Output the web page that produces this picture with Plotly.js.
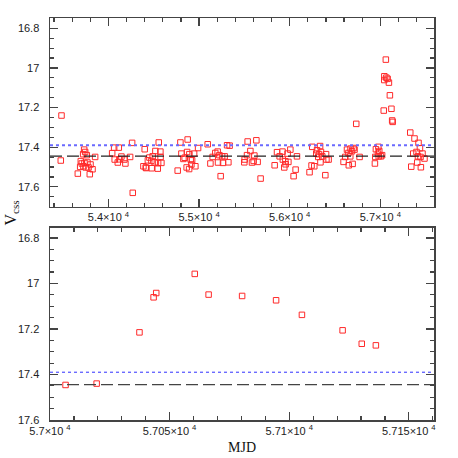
<!DOCTYPE html>
<html>
<head>
<meta charset="utf-8">
<script src="https://cdn.plot.ly/plotly-3.0.1.min.js"></script>
<style>
  body { margin: 0; background: #fff; }
  #plot { width: 458px; height: 458px; }
</style>
</head>
<body>
<div id="plot"></div>
<script>
// CSS light curve
const mjd = [
    53474, 53482, 53662, 53688, 53695, 53706, 53721, 53724, 53732, 53735,
    53743, 53750, 53761, 53768, 53780, 53794, 53802, 53824, 53853,
    54041, 54063, 54069, 54103, 54114, 54121, 54143, 54176, 54187, 54239,
    54261, 54268,
    54386, 54400, 54411, 54416, 54435, 54452, 54474, 54477, 54488, 54510,
    54518, 54544, 54548, 54555, 54573, 54575, 54584,
    54764, 54794, 54805, 54827, 54841, 54863, 54868, 54874, 54890, 54893,
    54907, 54915, 54923, 54945, 54959, 54989,
    55095, 55125, 55150, 55179, 55205, 55209, 55224, 55238, 55254, 55264,
    55282, 55309, 55323, 55337,
    55499, 55503, 55529, 55536, 55566, 55584, 55602, 55610, 55632, 55646,
    55679,
    55834, 55860, 55889, 55920, 55924, 55940, 55952, 55955, 55977, 55985,
    56007, 56043, 56065, 56080,
    56219, 56241, 56249, 56271, 56293, 56301, 56315, 56323, 56335, 56339,
    56345, 56359, 56393, 56401, 56405, 56429,
    56594, 56613, 56632, 56648, 56652, 56668, 56671, 56687, 56694, 56705,
    56715, 56734, 56771,
    56940, 56944, 56951, 56974, 56978, 56982, 56988,
    57006.5, 57019.5, 57037.4, 57043.3, 57044.4, 57060.5, 57066.3, 57080.3,
    57094.5, 57105.3, 57122.3, 57130.3, 57136.2,
    57330, 57341, 57363, 57377, 57399, 57407, 57415, 57421, 57437, 57443,
    57447, 57465, 57487
];
const vcss = [
    17.467, 17.240, 17.533, 17.499, 17.470, 17.482, 17.435, 17.496, 17.412, 17.479,
    17.424, 17.502, 17.440, 17.477, 17.502, 17.536, 17.487, 17.511, 17.449,
    17.430, 17.402, 17.462, 17.477, 17.402, 17.461, 17.447, 17.462, 17.482, 17.449,
    17.378, 17.630,
    17.496, 17.410, 17.502, 17.505, 17.466, 17.452, 17.469, 17.506, 17.446, 17.476,
    17.419, 17.508, 17.479, 17.376, 17.422, 17.449, 17.479,
    17.518, 17.376, 17.432, 17.459, 17.453, 17.502, 17.424, 17.361, 17.510, 17.435,
    17.462, 17.487, 17.466, 17.432, 17.496, 17.404,
    17.385, 17.482, 17.449, 17.429, 17.422, 17.477, 17.440, 17.546, 17.446, 17.479,
    17.446, 17.390, 17.476, 17.392,
    17.476, 17.462, 17.440, 17.371, 17.419, 17.477, 17.469, 17.442, 17.365, 17.474,
    17.558,
    17.491, 17.425, 17.446, 17.422, 17.462, 17.502, 17.471, 17.486, 17.432, 17.474,
    17.412, 17.546, 17.513, 17.446,
    17.526, 17.492, 17.398, 17.496, 17.432, 17.415, 17.449, 17.435, 17.394, 17.476,
    17.424, 17.446, 17.541, 17.435, 17.462, 17.462,
    17.474, 17.449, 17.412, 17.429, 17.491, 17.446, 17.407, 17.420, 17.484, 17.404,
    17.412, 17.282, 17.449,
    17.482, 17.449, 17.410, 17.432, 17.398, 17.446, 17.419,
    17.446, 17.440, 17.215, 17.061, 17.042, 16.958, 17.049, 17.055,
    17.074, 17.138, 17.206, 17.265, 17.272,
    17.326, 17.498, 17.432, 17.356, 17.424, 17.477, 17.446, 17.378, 17.405, 17.449,
    17.501, 17.432, 17.457
];

const meanMag = 17.445;   // dashed line
const brightLim = 17.39;  // dotted line

const topTicks = [54000, 55000, 56000, 57000];
const topTickText = ["5.4×10 <sup>4</sup>", "5.5×10 <sup>4</sup>", "5.6×10 <sup>4</sup>", "5.7×10 <sup>4</sup>"];
const botTicks = [57000, 57050, 57100, 57150];
const botTickText = ["5.7×10 <sup>4</sup>", "5.705×10 <sup>4</sup>", "5.71×10 <sup>4</sup>", "5.715×10 <sup>4</sup>"];

let marker = { symbol: "square-open", size: 5.5, color: "#ff2a2a", line: { width: 1, color: "#ff2a2a" } };

let traces = [
    { x: mjd, y: vcss, xaxis: "x", yaxis: "y", type: "scatter", mode: "markers", marker: marker, hoverinfo: "x+y" },
    { x: mjd, y: vcss, xaxis: "x2", yaxis: "y2", type: "scatter", mode: "markers", marker: marker, hoverinfo: "x+y" }
];

let tickFont = { family: "Liberation Sans, Arial, sans-serif", size: 11, color: "#222" };

function axisStyle(extra) {
    let base = {
        showline: true, linecolor: "#444", linewidth: 1.5, mirror: "allticks",
        ticks: "inside", ticklen: 8, tickwidth: 1.2, tickcolor: "#444",
        showgrid: false, zeroline: false, tickfont: tickFont
    };
    return Object.assign(base, extra);
}

let layout = {
    width: 458, height: 458,
    margin: { l: 50, r: 24, t: 18, b: 38 },
    paper_bgcolor: "#fff", plot_bgcolor: "#fff",
    showlegend: false,
    xaxis: axisStyle({
        anchor: "y", domain: [0, 1], range: [53355, 57592],
        tickmode: "array", tickvals: topTicks, ticktext: topTickText,
        minor: { dtick: 200, tick0: 54000, ticklen: 4, tickcolor: "#444", ticks: "inside" }
    }),
    yaxis: axisStyle({
        anchor: "x", domain: [0.5306, 1], range: [17.70, 16.748],
        tickmode: "linear", tick0: 16.8, dtick: 0.2, ticklabelstandoff: 7,
        minor: { dtick: 0.05, tick0: 16.8, ticklen: 4, tickcolor: "#444", ticks: "inside" }
    }),
    xaxis2: axisStyle({
        anchor: "y2", domain: [0, 1], range: [57000, 57160.5],
        tickmode: "array", tickvals: botTicks, ticktext: botTickText,
        minor: { dtick: 10, tick0: 57000, ticklen: 4, tickcolor: "#444", ticks: "inside" },
        title: { text: "MJD", font: { family: "Liberation Serif, Times New Roman, serif", size: 14, color: "#111" }, standoff: 6 }
    }),
    yaxis2: axisStyle({
        anchor: "x2", domain: [0, 0.4784], range: [17.6, 16.755],
        tickmode: "linear", tick0: 16.8, dtick: 0.2, ticklabelstandoff: 7,
        minor: { dtick: 0.05, tick0: 16.8, ticklen: 4, tickcolor: "#444", ticks: "inside" }
    }),
    shapes: [
        { type: "line", xref: "x domain", yref: "y", x0: 0, x1: 1, y0: brightLim, y1: brightLim,
          line: { color: "#6a6aff", width: 2, dash: "dot" } },
        { type: "line", xref: "x domain", yref: "y", x0: 0, x1: 1, y0: meanMag, y1: meanMag,
          line: { color: "#222", width: 1.2, dash: "12px,5px" } },
        { type: "line", xref: "x2 domain", yref: "y2", x0: 0, x1: 1, y0: brightLim, y1: brightLim,
          line: { color: "#3030ff", width: 1, dash: "dot" } },
        { type: "line", xref: "x2 domain", yref: "y2", x0: 0, x1: 1, y0: meanMag, y1: meanMag,
          line: { color: "#444", width: 1.3, dash: "12px,5px" } }
    ],
    annotations: [
        { text: "V<sub>css</sub>", xref: "paper", yref: "paper", x: -0.1, y: 0.515,
          xanchor: "center", yanchor: "middle", textangle: -90, showarrow: false,
          font: { family: "Liberation Serif, Times New Roman, serif", size: 16, color: "#111" } }
    ]
};

Plotly.newPlot("plot", traces, layout, { staticPlot: true });
</script>
</body>
</html>
